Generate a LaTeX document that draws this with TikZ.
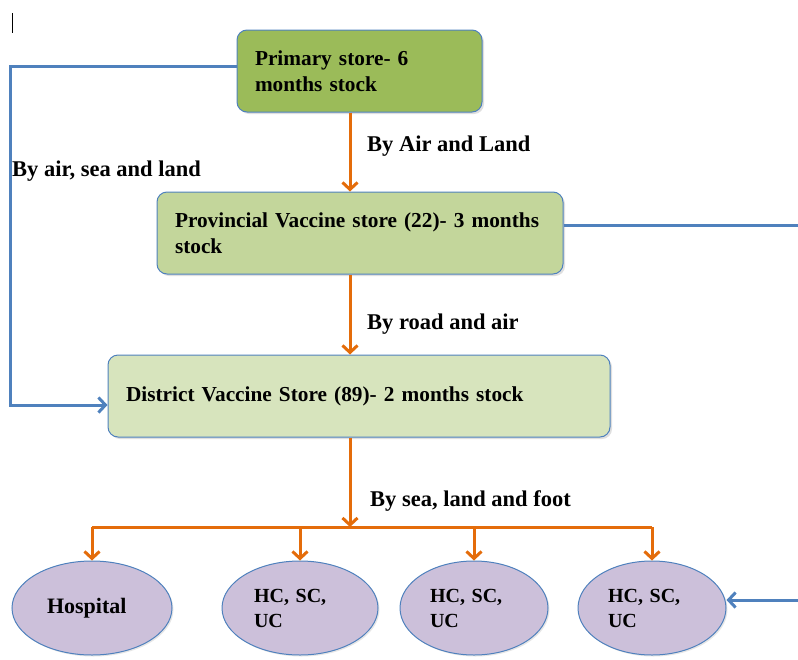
\documentclass[tikz,border=0pt]{standalone}
\usepackage{fontspec}
\setmainfont{Liberation Serif}
\definecolor{boxline}{RGB}{79, 129, 189}
\definecolor{primfill}{RGB}{155, 187, 89}
\definecolor{provfill}{RGB}{195, 214, 155}
\definecolor{distfill}{RGB}{215, 228, 189}
\definecolor{sitefill}{RGB}{204, 192, 218}
\definecolor{routeorange}{RGB}{228, 108, 10}
\definecolor{feedblue}{RGB}{79, 129, 189}
\usetikzlibrary{shapes.geometric, arrows.meta, positioning, calc, shadows}

\begin{document}
\begin{tikzpicture}[x=1pt, y=-1pt,
    store/.style={draw=boxline, line width=1pt, rounded corners=10pt, align=left,
      inner xsep=18pt, inner ysep=0pt, minimum height=82pt,
      drop shadow={opacity=0.25, shadow xshift=2pt, shadow yshift=-2pt},
      font=\fontsize{21.3}{26}\selectfont\bfseries},
    site/.style={ellipse, draw=boxline, line width=1pt, fill=sitefill, align=left,
      minimum height=94pt, inner sep=0pt,
      drop shadow={opacity=0.2, shadow xshift=1.5pt, shadow yshift=-1.5pt},
      font=\fontsize{20}{25}\selectfont\bfseries},
    flow/.style={draw=routeorange, line width=3pt, -{Straight Barb[length=7pt, width=15pt, line width=3pt]}},
    feed/.style={draw=feedblue, line width=3pt},
    route/.style={anchor=west, inner sep=0pt, font=\fontsize{22.5}{24}\selectfont\bfseries}]
  \useasboundingbox (0,0) rectangle (798,659);

  % cursor mark
  \draw[line width=0.8pt] (12,13) -- (12,33);

  % Stores
  \node[store, fill=primfill, text width=209pt] (primary) at (359.5,71) {Primary store- 6\\months stock};
  \node[store, fill=provfill, text width=370pt] (provincial) at (360,233) {Provincial Vaccine store (22)- 3 months\\stock};
  \node[store, fill=distfill, text width=466pt] (district) at (359,396) {District Vaccine Store (89)- 2 months stock};

  % Health facilities
  \node[site, minimum width=160pt, text width=90pt, font=\fontsize{22}{25}\selectfont\bfseries] (hospital) at (92,608) {Hospital};
  \node[site, minimum width=156pt, text width=92pt] (hc1) at (300,608) {HC, SC,\\UC};
  \node[site, minimum width=148pt, text width=88pt] (hc2) at (474,608) {HC, SC,\\UC};
  \node[site, minimum width=148pt, text width=88pt] (hc3) at (652,608) {HC, SC,\\UC};

  % helper points
  \coordinate (spine) at (350,0);
  \coordinate (bar) at (350,527);
  \coordinate (leftrail) at (10,0);
  \coordinate (rightedge) at (798,0);
  \coordinate (primout) at ([yshift=5pt]primary.west);
  \coordinate (distin) at ([yshift=-9pt]district.west);
  \coordinate (provout) at ([yshift=8pt]provincial.east);
  \coordinate (sitein) at ([yshift=8pt]hc3.east);

  % Orange routes
  \draw[flow] (spine |- primary.south) -- (spine |- provincial.north);
  \draw[flow] (spine |- provincial.south) -- (spine |- district.north);
  \draw[flow] (spine |- district.south) -- (bar);
  \draw[draw=routeorange, line width=3pt] (hospital.north |- bar) -- (hc3.north |- bar);
  \foreach \site in {hospital, hc1, hc2, hc3}
    \draw[flow] (\site.north |- bar) -- (\site.north);

  % Blue links
  \draw[feed, -{Straight Barb[length=7pt, width=15pt, line width=3pt]}]
    (primout) -- (leftrail |- primout) -- (leftrail |- distin) -- (distin);
  \draw[feed] (provout) -- (rightedge |- provout);
  \draw[feed, -{Straight Barb[length=7pt, width=15pt, line width=3pt]}]
    (rightedge |- sitein) -- (sitein);

  % Route labels
  \node[route] (airland) at (367,146) {By Air and Land};
  \node[route] (airsea) at (12,171) {By air, sea and land};
  \node[route] (roadair) at (367,324) {By road and air};
  \node[route] (seafoot) at (370,501) {By sea, land and foot};
\end{tikzpicture}
\end{document}
